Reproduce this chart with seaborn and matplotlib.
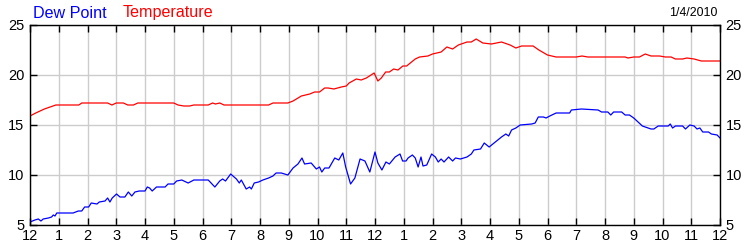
import matplotlib
matplotlib.use("Agg")
import matplotlib.pyplot as plt
import seaborn as sns
import pandas as pd

temp_hours = [0.0, 0.2, 0.35, 0.5, 0.7, 0.9, 1.7, 1.8, 2.7, 2.85, 3.0, 3.25, 3.4, 3.6, 3.75, 5.0,
              5.15, 5.35, 5.55, 5.7, 6.2, 6.35, 6.45, 6.6, 6.75, 8.3, 8.45, 8.8, 8.97, 9.15, 9.44,
              9.73, 9.9, 10.07, 10.25, 10.37, 10.57, 10.83, 11.0, 11.1, 11.35, 11.52, 11.7, 11.97,
              12.1, 12.22, 12.37, 12.5, 12.65, 12.8, 12.97, 13.1, 13.4, 13.55, 13.84, 14.0, 14.3,
              14.5, 14.7, 14.9, 15.2, 15.35, 15.52, 15.75, 16.05, 16.4, 16.7, 16.9, 17.1, 17.5,
              17.7, 18.0, 18.3, 19.0, 19.2, 19.4, 20.7, 20.8, 21.0, 21.2, 21.4, 21.6, 21.9, 22.1,
              22.3, 22.45, 22.7, 22.85, 23.1, 23.35, 24.0]
temperature = [15.9, 16.2, 16.4, 16.6, 16.8, 17.0, 17.0, 17.2, 17.2, 17.0, 17.2, 17.2, 17.0, 17.0,
               17.2, 17.2, 17.0, 16.9, 16.9, 17.0, 17.0, 17.2, 17.1, 17.2, 17.0, 17.0, 17.2, 17.2,
               17.2, 17.4, 17.9, 18.1, 18.3, 18.3, 18.7, 18.7, 18.6, 18.8, 18.9, 19.2, 19.6, 19.5,
               19.7, 20.2, 19.4, 19.7, 20.3, 20.3, 20.6, 20.5, 20.9, 20.9, 21.6, 21.8, 21.9, 22.1,
               22.3, 22.8, 22.6, 23.0, 23.3, 23.3, 23.6, 23.2, 23.1, 23.3, 23.0, 22.7, 22.9, 22.9,
               22.5, 22.0, 21.8, 21.8, 21.9, 21.8, 21.8, 21.7, 21.8, 21.8, 22.1, 21.9, 21.9, 21.8,
               21.8, 21.6, 21.6, 21.7, 21.6, 21.4, 21.4]

dew_hours = [0.0, 0.17, 0.29, 0.38, 0.46, 0.64, 0.75, 0.81, 0.87, 0.93, 1.5, 1.68, 1.8, 1.9, 2.04,
             2.13, 2.33, 2.41, 2.61, 2.7, 2.78, 2.86, 3.01, 3.13, 3.3, 3.42, 3.54, 3.65, 3.8, 4.0,
             4.08, 4.16, 4.25, 4.4, 4.7, 4.8, 5.0, 5.1, 5.28, 5.5, 5.7, 6.2, 6.43, 6.6, 6.7, 6.8,
             6.98, 7.18, 7.28, 7.35, 7.52, 7.64, 7.7, 7.8, 7.95, 8.1, 8.3, 8.45, 8.56, 8.74, 8.97,
             9.15, 9.32, 9.46, 9.55, 9.78, 9.96, 10.07, 10.15, 10.25, 10.4, 10.6, 10.74, 10.88,
             10.98, 11.15, 11.3, 11.48, 11.65, 11.82, 12.0, 12.1, 12.24, 12.38, 12.5, 12.7, 12.87,
             12.96, 13.08, 13.15, 13.3, 13.4, 13.5, 13.6, 13.67, 13.8, 13.97, 14.1, 14.2, 14.3,
             14.4, 14.56, 14.7, 14.8, 14.97, 15.2, 15.35, 15.44, 15.67, 15.8, 15.97, 16.1, 16.27,
             16.4, 16.55, 16.65, 16.75, 16.9, 17.05, 17.45, 17.57, 17.68, 17.86, 17.95, 18.08,
             18.3, 18.77, 18.83, 19.18, 19.76, 19.88, 20.1, 20.2, 20.3, 20.58, 20.7, 20.85, 21.0,
             21.3, 21.6, 21.7, 21.85, 22.2, 22.27, 22.35, 22.45, 22.7, 22.8, 22.95, 23.1, 23.2,
             23.3, 23.4, 23.6, 23.7, 23.9, 24.0]
dew_point = [5.3, 5.5, 5.6, 5.4, 5.6, 5.7, 5.8, 6.0, 5.9, 6.2, 6.2, 6.4, 6.4, 6.8, 6.8, 7.2, 7.1,
             7.3, 7.4, 7.7, 7.3, 7.7, 8.1, 7.8, 7.8, 8.3, 7.9, 8.3, 8.4, 8.4, 8.8, 8.7, 8.4, 8.8,
             8.8, 9.1, 9.1, 9.4, 9.5, 9.2, 9.5, 9.5, 8.8, 9.4, 9.6, 9.4, 10.1, 9.6, 9.2, 9.5, 8.6,
             8.8, 8.6, 9.2, 9.3, 9.5, 9.7, 9.9, 10.2, 10.2, 10.0, 10.7, 11.1, 11.7, 11.1, 11.2,
             10.6, 10.8, 10.3, 10.7, 10.7, 11.7, 11.5, 12.2, 10.8, 9.1, 9.7, 11.6, 11.4, 10.3,
             12.3, 11.2, 10.5, 11.3, 11.1, 11.8, 12.1, 11.4, 11.4, 11.7, 12.0, 11.7, 10.8, 11.8,
             10.9, 11.0, 12.1, 11.8, 11.3, 11.6, 11.3, 11.8, 11.4, 11.7, 11.6, 11.8, 12.1, 12.5,
             12.6, 13.2, 12.8, 13.1, 13.5, 13.8, 14.1, 13.9, 14.5, 14.7, 15.0, 15.1, 15.2, 15.8,
             15.8, 15.7, 15.9, 16.2, 16.2, 16.5, 16.6, 16.5, 16.3, 16.3, 16.0, 16.3, 16.3, 16.0,
             16.0, 15.7, 14.9, 14.6, 14.6, 14.9, 14.9, 15.1, 14.7, 14.9, 14.9, 14.6, 15.0, 14.9,
             14.6, 14.7, 14.3, 14.3, 14.1, 14.0, 13.7]

hour_ticks = list(range(25))
hour_labels = ["12", "1", "2", "3", "4", "5", "6", "7", "8", "9", "10", "11",
               "12", "1", "2", "3", "4", "5", "6", "7", "8", "9", "10", "11", "12"]
y_ticks = [5, 10, 15, 20, 25]
date_label = "1/4/2010"

sns.set_style("white")
plt.rcParams["font.family"] = ["Liberation Sans", "DejaVu Sans"]

fig = plt.figure(figsize=(7.5, 2.5), dpi=100)
ax = fig.add_axes([30 / 750, 25 / 250, 690 / 750, 200 / 250])

df_t = pd.DataFrame({"hour": temp_hours, "value": temperature})
df_d = pd.DataFrame({"hour": dew_hours, "value": dew_point})
sns.lineplot(data=df_t, x="hour", y="value", ax=ax, color="#ff0000", linewidth=0.9)
sns.lineplot(data=df_d, x="hour", y="value", ax=ax, color="#0000ff", linewidth=0.9)

ax.set_xlim(0, 24)
ax.set_ylim(5, 25)
ax.set_xticks(hour_ticks)
ax.set_xticklabels(hour_labels)
ax.set_yticks(y_ticks)
ax.set_xlabel("")
ax.set_ylabel("")
ax.grid(True, color="#cccccc", linewidth=1)
ax.set_axisbelow(True)
for s in ax.spines.values():
    s.set_color("black")
    s.set_linewidth(1)
    s.set_visible(True)
ax.tick_params(axis="x", direction="in", length=5, width=1, top=True, bottom=True,
               labelsize=10.5, pad=3, colors="black")
ax.tick_params(axis="y", direction="in", length=5, width=1, left=True, right=True,
               labelleft=True, labelright=True, labelsize=10.5, pad=4, colors="black")

fig.text(33 / 750, 1 - 13 / 250, "Dew Point", color="#0000ff", fontsize=11.6, va="center", ha="left")
fig.text(123 / 750, 1 - 13 / 250, "Temperature", color="#ff0000", fontsize=11.6, va="center", ha="left")
fig.text(717 / 750, 1 - 13 / 250, date_label, color="black", fontsize=8.9, va="center", ha="right")

fig.savefig("out.png", dpi=100)
